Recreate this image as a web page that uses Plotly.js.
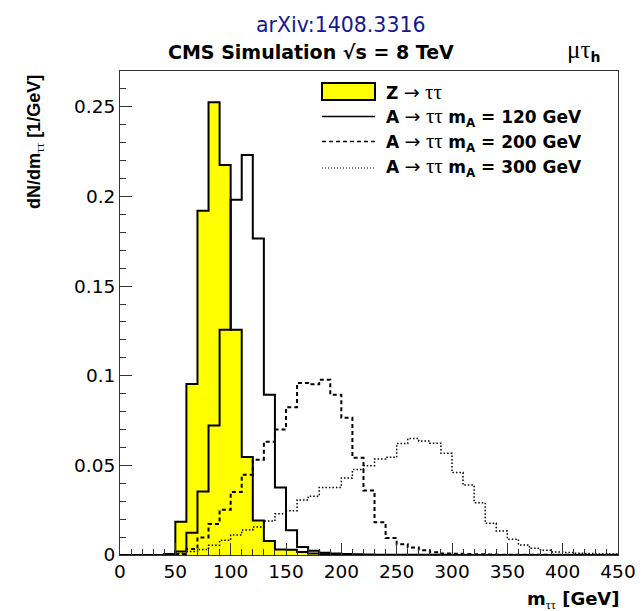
<!DOCTYPE html>
<html><head><meta charset="utf-8">
<script src="https://cdn.plot.ly/plotly-3.0.1.min.js"></script>
<style>html,body{margin:0;padding:0;background:#fff}</style>
</head><body>
<div id="chart" style="width:643px;height:611px"></div>
<script>
// bin edges of m_tautau [GeV] (10 GeV bins)
const binEdges = [0,10,20,30,40,50,60,70,80,90,100,110,120,130,140,150,160,170,180,190,200,
  210,220,230,240,250,260,270,280,290,300,310,320,330,340,350,360,370,380,390,400,410,420,430,440,450];

// dN/dm per bin (45 bins)
const zTauTau = [0,0,0,0,0.0006,0.0185,0.0954,0.1921,0.2526,0.2176,0.1257,0.0547,0.0192,0.0078,0.0031,0.0029,0.0017,0.0008,0.0004,0.0003,
  0,0,0,0,0,0,0,0,0,0,0,0,0,0,0,0,0,0,0,0,0,0,0,0,0];
const a120 = [0,0,0,0,0.0005,0.002,0.0124,0.0354,0.0722,0.1256,0.1982,0.2232,0.1766,0.0894,0.0377,0.0138,0.0045,0.0024,0.0013,0.0009,
  0.0006,0.0004,0.0003,0.0002,0.0002,0.0001,0.0001,0.0001,0.0001,0.0001,0,0,0,0,0,0,0,0,0,0,0,0,0,0,0];
const a200 = [0,0,0,0,0,0.0005,0.0033,0.0098,0.0173,0.0252,0.0352,0.0448,0.0532,0.0632,0.0700,0.0824,0.0960,0.0952,0.0978,0.0894,
  0.0765,0.0542,0.0360,0.0183,0.0095,0.0060,0.0042,0.0026,0.0015,0.0009,0.0007,0.0005,0.0004,0.0003,0.0002,0.0001,0.0001,0.0001,0.0001,0.0001,0.0001,0.0001,0.0001,0.0001,0.0001];
const a300 = [0,0,0,0,0,0.0008,0.002,0.003,0.0055,0.0082,0.0112,0.014,0.0156,0.019,0.023,0.0247,0.0307,0.0328,0.0377,0.0377,
  0.0430,0.0477,0.0498,0.0535,0.0545,0.0622,0.0650,0.0636,0.0624,0.0567,0.0460,0.0390,0.0292,0.0177,0.0134,0.0088,0.0056,0.0037,0.0026,0.0017,
  0.0014,0.0010,0.0008,0.0006,0.0005];

const seriesNames = ['Z → ττ','A → ττ m_A = 120 GeV','A → ττ m_A = 200 GeV','A → ττ m_A = 300 GeV'];
const serif = "font-family:'Liberation Serif','DejaVu Serif';font-weight:normal";
const arrow = '<span style="font-family:\'DejaVu Sans\';font-weight:normal;font-size:19px">→</span>';
const tt = '<span style="'+serif+';font-size:21px">ττ</span>';
const legendLabels = [
  '<b>Z</b> '+arrow+' '+tt,
  '<b>A</b> '+arrow+' '+tt+' <b>m<sub>A</sub> = 120 GeV</b>',
  '<b>A</b> '+arrow+' '+tt+' <b>m<sub>A</sub> = 200 GeV</b>',
  '<b>A</b> '+arrow+' '+tt+' <b>m<sub>A</sub> = 300 GeV</b>'
];

function stepY(v){ return v.concat([v[v.length-1]]); }

const traces = [
  {x: binEdges, y: stepY(zTauTau), name: seriesNames[0], type:'scatter', mode:'lines',
   line:{shape:'hv', color:'#000', width:2}, fill:'tozeroy', fillcolor:'#ffff00'},
  {x: binEdges, y: stepY(a120), name: seriesNames[1], type:'scatter', mode:'lines',
   line:{shape:'hv', color:'#000', width:2}},
  {x: binEdges, y: stepY(a200), name: seriesNames[2], type:'scatter', mode:'lines',
   line:{shape:'hv', color:'#000', width:2, dash:'4px,3px'}},
  {x: binEdges, y: stepY(a300), name: seriesNames[3], type:'scatter', mode:'lines',
   line:{shape:'hv', color:'#000', width:1.5, dash:'1.5px,2px'}}
];

// plot-area pixel helpers (frame: x 120..618, y 71..555)
const L=120, R=618, T=71, B=555;
const px = p => (p-L)/(R-L);
const py = p => (B-p)/(B-T);

const legendRows = [91.7, 116.5, 141.5, 166.5];
const annotations = [
  {text:'arXiv:1408.3316', xref:'paper', yref:'paper', x:px(341), y:py(25.5), xanchor:'center', yanchor:'middle',
   showarrow:false, font:{family:'DejaVu Sans', size:20.5, color:'#16168f'}},
  {text:'<b>CMS Simulation √s = 8 TeV</b>', xref:'paper', yref:'paper', x:px(166), y:py(51.5), xanchor:'left', yanchor:'middle',
   showarrow:false, font:{family:'DejaVu Sans', size:19, color:'#000'}},
  {text:'<span style="'+serif+';font-size:25px">μτ</span><sub><b>h</b></sub>', xref:'paper', yref:'paper', x:px(565), y:py(51), xanchor:'left', yanchor:'middle',
   showarrow:false, font:{family:'DejaVu Sans', size:20, color:'#000'}},
  {text:'<b>m</b><sub><span style="'+serif+'">ττ</span></sub><b> [GeV]</b>', xref:'paper', yref:'paper', x:px(622), y:py(600), xanchor:'right', yanchor:'middle',
   showarrow:false, font:{family:'DejaVu Sans', size:18, color:'#000'}},
  {text:'<b>dN/dm</b><sub><span style="'+serif+'">ττ</span></sub><b> [1/GeV]</b>', xref:'paper', yref:'paper', x:px(35), y:py(73), xanchor:'center', yanchor:'top',
   textangle:-90, showarrow:false, font:{family:'Liberation Sans', size:18, color:'#000'}}
];
legendLabels.forEach((t,i)=>{
  annotations.push({text:t, xref:'paper', yref:'paper', x:px(384), y:py(legendRows[i]), xanchor:'left', yanchor:'middle',
    showarrow:false, font:{family:'DejaVu Sans', size:17, color:'#000'}});
});

const shapes = [
  {type:'rect', xref:'paper', yref:'paper', x0:px(322), x1:px(375), y0:py(100), y1:py(83),
   fillcolor:'#ffff00', line:{color:'#000', width:2}},
  {type:'line', xref:'paper', yref:'paper', x0:px(322), x1:px(375), y0:py(legendRows[1]), y1:py(legendRows[1]),
   line:{color:'#000', width:1.5}},
  {type:'line', xref:'paper', yref:'paper', x0:px(322), x1:px(375), y0:py(legendRows[2]), y1:py(legendRows[2]),
   line:{color:'#000', width:1.5, dash:'4px,3px'}},
  {type:'line', xref:'paper', yref:'paper', x0:px(322), x1:px(375), y0:py(legendRows[3]+1.5), y1:py(legendRows[3]+1.5),
   line:{color:'#000', width:1.2, dash:'1px,2px'}}
];

const axisCommon = {
  ticks:'inside', ticklen:12, tickwidth:1, tickcolor:'#333',
  showline:true, linecolor:'#333', linewidth:1, mirror:true,
  showgrid:false, zeroline:false,
  tickfont:{family:'DejaVu Sans', size:18.5, color:'#000'}
};

const layout = {
  width:643, height:611,
  margin:{l:L, r:643-R, t:T, b:611-B, pad:0},
  paper_bgcolor:'#fff', plot_bgcolor:'#fff',
  showlegend:false,
  font:{family:'DejaVu Sans', color:'#000'},
  xaxis:Object.assign({}, axisCommon, {range:[0,450], tick0:0, dtick:50,
    minor:{dtick:10, ticks:'inside', ticklen:6, tickcolor:'#333', showgrid:false}}),
  yaxis:Object.assign({}, axisCommon, {range:[0,0.27], tick0:0, dtick:0.05,
    minor:{dtick:0.01, ticks:'inside', ticklen:6, tickcolor:'#333', showgrid:false}}),
  annotations:annotations,
  shapes:shapes
};

Plotly.newPlot('chart', traces, layout, {displayModeBar:false, staticPlot:true});
</script>
</body></html>
